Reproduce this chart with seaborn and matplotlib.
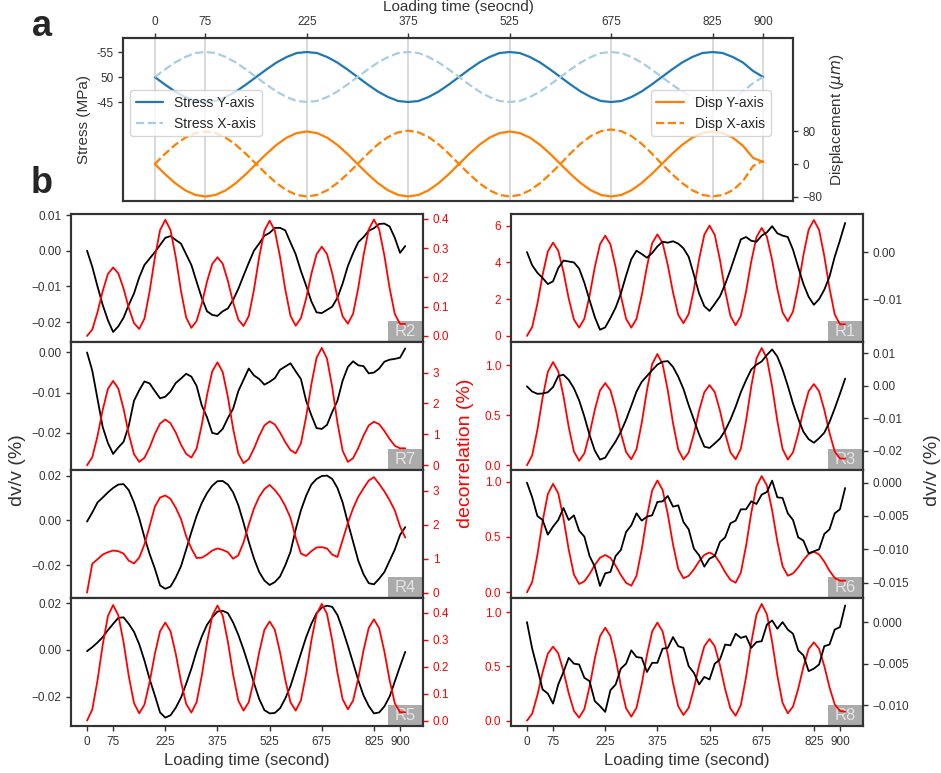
import matplotlib
matplotlib.use("Agg")
import matplotlib.pyplot as plt
import numpy as np
import seaborn as sns
from matplotlib.patches import Rectangle

sns.set_theme(style="ticks")
plt.rcParams['font.family'] = ['Liberation Sans', 'DejaVu Sans']
plt.rcParams['axes.edgecolor'] = '#333333'
plt.rcParams['axes.linewidth'] = 1.5

# ---------------- data: panel a (loading path) ----------------
t_top = np.arange(0, 901, 15)

stress_y = [50.0, 48.5, 47.1, 46.0, 45.2, 45.0, 45.2, 46.0, 47.1, 48.5, 50.0, 51.5, 52.9, 54.0, 54.8, 55.0, 54.8, 54.0, 52.9, 51.5,
            50.0, 48.5, 47.1, 46.0, 45.2, 45.0, 45.2, 46.0, 47.1, 48.5, 50.0, 51.5, 52.9, 54.0, 54.8, 55.0, 54.8, 54.0, 52.9, 51.5,
            50.0, 48.5, 47.1, 46.0, 45.2, 45.0, 45.2, 46.0, 47.1, 48.5, 50.0, 51.5, 52.9, 54.0, 54.8, 55.0, 54.8, 54.0, 52.9, 51.2,
            50.0]
stress_x = [50.0, 51.5, 52.9, 54.0, 54.8, 55.0, 54.8, 54.0, 52.9, 51.5, 50.0, 48.5, 47.1, 46.0, 45.2, 45.0, 45.2, 46.0, 47.1, 48.5,
            50.0, 51.5, 52.9, 54.0, 54.8, 55.0, 54.8, 54.0, 52.9, 51.5, 50.0, 48.5, 47.1, 46.0, 45.2, 45.0, 45.2, 46.0, 47.1, 48.5,
            50.0, 51.5, 52.9, 54.0, 54.8, 55.0, 54.8, 54.0, 52.9, 51.5, 50.0, 48.5, 47.1, 46.0, 45.2, 45.0, 45.2, 46.0, 47.1, 48.8,
            50.0]
disp_y = [0.0, -24.7, -47.0, -64.7, -76.1, -80.0, -76.1, -64.7, -47.0, -24.7, 0.0, 24.7, 47.0, 64.7, 76.1, 80.0, 76.1, 64.7, 47.0, 24.7,
          0.0, -24.7, -47.0, -64.7, -76.1, -80.0, -76.1, -64.7, -47.0, -24.7, 0.0, 24.7, 47.0, 64.7, 76.1, 80.0, 76.1, 64.7, 47.0, 24.7,
          0.0, -24.7, -47.0, -64.7, -76.1, -80.0, -76.1, -64.7, -47.0, -24.7, 0.0, 24.7, 47.0, 64.7, 76.1, 80.0, 76.1, 64.7, 45.0, 15.0,
          5.0]
disp_x = [0.0, 24.7, 47.0, 64.7, 76.1, 80.0, 76.1, 64.7, 47.0, 24.7, 0.0, -24.7, -47.0, -64.7, -76.1, -80.0, -76.1, -64.7, -47.0, -24.7,
          0.0, 25.3, 48.2, 66.3, 78.0, 82.0, 78.0, 66.3, 48.2, 25.3, 0.0, -24.7, -47.0, -64.7, -76.1, -80.0, -76.1, -64.7, -47.0, -24.7,
          0.0, 26.3, 50.0, 68.8, 80.8, 85.0, 80.8, 68.8, 50.0, 26.3, 0.0, -24.7, -47.0, -64.7, -76.1, -80.0, -76.1, -64.7, -42.0, -5.0,
          8.0]

# ---------------- data: panel b (receivers) ----------------
t_bot = np.arange(0, 916, 15)

r2_dc = [0, .022, .081, .153, .212, .234, .214, .162, .096, .044,
         .024, .059, .153, .268, .362, .397, .362, .270, .155, .063,
         .028, .051, .111, .186, .246, .269, .247, .188, .115, .056,
         .034, .068, .158, .270, .360, .394, .360, .270, .159, .069,
         .035, .061, .128, .212, .279, .305, .280, .214, .133, .067,
         .042, .076, .165, .275, .364, .398, .364, .275, .164, .075,
         .041, .041]
r2_dv = [0.0000, -0.0045, -0.0100, -0.0152, -0.0195, -0.0228, -0.0212, -0.0188, -0.0152, -0.0120,
         -0.0075, -0.0040, -0.0022, -0.0004, 0.0016, 0.0036, 0.0041, 0.0030, 0.0020, -0.0010,
         -0.0040, -0.0087, -0.0133, -0.0170, -0.0180, -0.0183, -0.0170, -0.0162, -0.0138, -0.0107,
         -0.0070, -0.0034, 0.0000, 0.0020, 0.0042, 0.0050, 0.0064, 0.0064, 0.0057, 0.0023,
         -0.0010, -0.0057, -0.0098, -0.0142, -0.0173, -0.0175, -0.0166, -0.0157, -0.0132, -0.0092,
         -0.0043, -0.0007, 0.0024, 0.0038, 0.0056, 0.0063, 0.0075, 0.0076, 0.0068, 0.0036,
         -0.0006, 0.0013]

r7_dc = [0, .26, .94, 1.79, 2.47, 2.73, 2.48, 1.83, 1.01, .36,
         .11, .24, .58, 1.01, 1.35, 1.48, 1.36, 1.06, .67, .37,
         .25, .54, 1.31, 2.27, 3.04, 3.33, 3.02, 2.21, 1.19, .38,
         .07, .20, .54, .95, 1.29, 1.42, 1.32, 1.06, .75, .49,
         .39, .71, 1.57, 2.62, 3.48, 3.80, 3.45, 2.53, 1.38, .47,
         .11, .23, .56, .96, 1.29, 1.41, 1.33, 1.11, .85, .63,
         .55, .55]
r7_dv = [0.0000, -0.0045, -0.0115, -0.0185, -0.0225, -0.0252, -0.0236, -0.0222, -0.0182, -0.0120,
         -0.0094, -0.0072, -0.0077, -0.0096, -0.0114, -0.0110, -0.0097, -0.0076, -0.0065, -0.0053,
         -0.0060, -0.0083, -0.0132, -0.0161, -0.0200, -0.0203, -0.0190, -0.0163, -0.0140, -0.0096,
         -0.0068, -0.0040, -0.0057, -0.0066, -0.0080, -0.0073, -0.0064, -0.0043, -0.0035, -0.0027,
         -0.0047, -0.0066, -0.0120, -0.0156, -0.0188, -0.0190, -0.0180, -0.0148, -0.0120, -0.0070,
         -0.0036, -0.0022, -0.0032, -0.0034, -0.0052, -0.0050, -0.0040, -0.0023, -0.0018, -0.0016,
         -0.0013, 0.0010]

r4_dc = [0.0, 0.85, 0.98, 1.12, 1.19, 1.24, 1.22, 1.15, 0.94, 0.86,
         1.03, 1.42, 1.96, 2.53, 2.80, 2.86, 2.76, 2.50, 2.17, 1.66,
         1.30, 1.02, 1.03, 1.12, 1.24, 1.30, 1.26, 1.19, 1.00, 1.10,
         1.48, 2.00, 2.48, 2.82, 3.05, 3.17, 3.02, 2.82, 2.55, 2.20,
         1.62, 1.15, 1.08, 1.22, 1.33, 1.34, 1.30, 1.12, 1.05, 1.55,
         2.05, 2.48, 2.82, 3.07, 3.30, 3.40, 3.20, 2.98, 2.72, 2.42,
         1.95, 1.62]
r4_dv = [-0.0005, 0.0035, 0.0080, 0.0102, 0.0125, 0.0145, 0.0160, 0.0162, 0.0135, 0.0080,
         0.0010, -0.0075, -0.0150, -0.0215, -0.0290, -0.0305, -0.0295, -0.0255, -0.0205, -0.0130,
         -0.0052, 0.0020, 0.0078, 0.0122, 0.0155, 0.0175, 0.0176, 0.0160, 0.0125, 0.0068,
         -0.0010, -0.0095, -0.0170, -0.0230, -0.0268, -0.0288, -0.0275, -0.0250, -0.0200, -0.0140,
         -0.0040, 0.0045, 0.0110, 0.0160, 0.0185, 0.0198, 0.0200, 0.0185, 0.0145, 0.0080,
         -0.0010, -0.0095, -0.0180, -0.0240, -0.0280, -0.0285, -0.0260, -0.0230, -0.0180, -0.0130,
         -0.0065, -0.0030]

r5_dc = [0, .041, .148, .280, .387, .428, .390, .290, .165, .065,
         .027, .059, .143, .247, .331, .363, .331, .248, .145, .062,
         .030, .068, .167, .289, .388, .426, .389, .292, .171, .074,
         .037, .068, .151, .253, .336, .367, .336, .253, .151, .068,
         .037, .075, .173, .296, .394, .432, .395, .297, .177, .079,
         .042, .074, .157, .260, .343, .375, .342, .256, .150, .064,
         .031, .031]
r5_dv = [-0.0005, 0.0012, 0.0032, 0.0055, 0.0085, 0.0112, 0.0138, 0.0140, 0.0112, 0.0078,
         0.0025, -0.0045, -0.0125, -0.0195, -0.0268, -0.0290, -0.0280, -0.0248, -0.0205, -0.0145,
         -0.0080, -0.0005, 0.0058, 0.0108, 0.0140, 0.0165, 0.0168, 0.0158, 0.0118, 0.0065,
         0.0002, -0.0068, -0.0142, -0.0210, -0.0258, -0.0272, -0.0270, -0.0250, -0.0208, -0.0155,
         -0.0085, -0.0015, 0.0055, 0.0112, 0.0158, 0.0182, 0.0190, 0.0185, 0.0150, 0.0088,
         0.0018, -0.0055, -0.0130, -0.0195, -0.0240, -0.0272, -0.0268, -0.0242, -0.0200, -0.0135,
         -0.0070, -0.0008]

r1_dc = [0, .48, 1.75, 3.32, 4.59, 5.07, 4.63, 3.48, 2.04, .89,
         .45, .93, 2.18, 3.73, 4.98, 5.45, 4.98, 3.73, 2.18, .93,
         .45, .93, 2.20, 3.77, 5.04, 5.52, 5.06, 3.85, 2.36, 1.15,
         .69, 1.19, 2.52, 4.17, 5.50, 6.00, 5.49, 4.13, 2.45, 1.09,
         .58, 1.08, 2.41, 4.05, 5.37, 5.87, 5.39, 4.12, 2.55, 1.28,
         .80, 1.32, 2.70, 4.40, 5.78, 6.30, 5.76, 4.34, 2.59, 1.17,
         .63, .63]
r1_dv = [0.0000, -0.0028, -0.0044, -0.0055, -0.0068, -0.0062, -0.0034, -0.0018, -0.0020, -0.0022,
         -0.0035, -0.0065, -0.0102, -0.0138, -0.0165, -0.0160, -0.0140, -0.0118, -0.0088, -0.0050,
         -0.0015, 0.0003, -0.0004, -0.0012, -0.0002, 0.0012, 0.0022, 0.0020, 0.0023, 0.0018,
         0.0008, -0.0010, -0.0048, -0.0088, -0.0115, -0.0125, -0.0110, -0.0094, -0.0068, -0.0038,
         -0.0005, 0.0027, 0.0032, 0.0024, 0.0022, 0.0035, 0.0042, 0.0055, 0.0040, 0.0035,
         0.0032, 0.0005, -0.0032, -0.0068, -0.0095, -0.0112, -0.0100, -0.0080, -0.0052, -0.0010,
         0.0025, 0.0062]

r3_dc = [0, .098, .355, .675, .932, 1.03, .936, .690, .384, .138,
         .044, .118, .312, .552, .746, .820, .748, .558, .322, .132,
         .060, .160, .422, .748, 1.010, 1.11, 1.010, .747, .420, .157,
         .057, .128, .313, .544, .729, .800, .730, .545, .315, .130,
         .060, .165, .443, .787, 1.065, 1.17, 1.064, .786, .441, .163,
         .057, .129, .317, .550, .738, .810, .739, .554, .323, .138,
         .067, .067]
r3_dv = [-0.0002, -0.0018, -0.0025, -0.0024, -0.0020, -0.0004, 0.0030, 0.0034, 0.0018, -0.0008,
         -0.0045, -0.0095, -0.0152, -0.0200, -0.0228, -0.0222, -0.0196, -0.0172, -0.0142, -0.0105,
         -0.0062, -0.0018, 0.0012, 0.0030, 0.0048, 0.0065, 0.0074, 0.0076, 0.0058, 0.0028,
         -0.0010, -0.0060, -0.0105, -0.0150, -0.0188, -0.0192, -0.0178, -0.0163, -0.0138, -0.0105,
         -0.0065, -0.0020, 0.0017, 0.0050, 0.0065, 0.0075, 0.0095, 0.0112, 0.0090, 0.0050,
         0.0000, -0.0055, -0.0102, -0.0142, -0.0165, -0.0176, -0.0162, -0.0145, -0.0112, -0.0070,
         -0.0025, 0.0022]

r6_dc = [0, .093, .338, .642, .887, .980, .894, .668, .387, .161,
         .075, .100, .165, .247, .312, .337, .311, .241, .156, .086,
         .060, .150, .388, .682, .920, 1.01, .926, .705, .432, .211,
         .127, .149, .207, .280, .338, .360, .334, .266, .181, .113,
         .087, .178, .419, .718, .959, 1.05, .965, .740, .461, .236,
         .150, .171, .225, .292, .346, .367, .342, .277, .195, .130,
         .105, .105]
r6_dv = [0.0000, -0.0022, -0.0050, -0.0056, -0.0078, -0.0066, -0.0056, -0.0038, -0.0056, -0.0049,
         -0.0072, -0.0081, -0.0110, -0.0126, -0.0155, -0.0136, -0.0134, -0.0110, -0.0101, -0.0074,
         -0.0064, -0.0046, -0.0057, -0.0051, -0.0049, -0.0029, -0.0028, -0.0020, -0.0036, -0.0034,
         -0.0059, -0.0070, -0.0099, -0.0109, -0.0126, -0.0114, -0.0110, -0.0089, -0.0082, -0.0061,
         -0.0057, -0.0040, -0.0040, -0.0028, -0.0032, -0.0018, -0.0014, 0.0003, -0.0022, -0.0023,
         -0.0046, -0.0056, -0.0082, -0.0087, -0.0106, -0.0103, -0.0100, -0.0077, -0.0070, -0.0046,
         -0.0040, -0.0008]

r8_dc = [0, .065, .236, .447, .618, .683, .621, .457, .254, .090,
         .028, .107, .314, .572, .779, .858, .780, .575, .320, .115,
         .037, .119, .336, .606, .823, .905, .824, .611, .346, .133,
         .052, .119, .294, .512, .687, .754, .687, .510, .290, .113,
         .046, .144, .402, .721, .979, 1.077, .981, .729, .416, .164,
         .068, .130, .294, .497, .661, .723, .663, .505, .308, .150,
         .090, .083]
r8_dv = [0.0000, -0.0032, -0.0056, -0.0081, -0.0086, -0.0098, -0.0075, -0.0060, -0.0043, -0.0050,
         -0.0051, -0.0067, -0.0071, -0.0095, -0.0101, -0.0108, -0.0082, -0.0075, -0.0056, -0.0050,
         -0.0034, -0.0042, -0.0043, -0.0060, -0.0049, -0.0049, -0.0032, -0.0031, -0.0018, -0.0029,
         -0.0031, -0.0053, -0.0061, -0.0075, -0.0066, -0.0069, -0.0050, -0.0045, -0.0027, -0.0028,
         -0.0014, -0.0019, -0.0017, -0.0031, -0.0024, -0.0023, -0.0003, 0.0002, -0.0008, 0.0000,
         -0.0009, -0.0014, -0.0034, -0.0040, -0.0059, -0.0056, -0.0051, -0.0029, -0.0027, -0.0009,
         -0.0006, 0.0020]

time_ticks = [0, 75, 225, 375, 525, 675, 825, 900]

# ---------------- figure ----------------
fig = plt.figure(figsize=(9.41, 7.73), dpi=100)
pal = sns.color_palette("Paired")
dark = '#333333'

# panel a
ax_a = fig.add_axes([0.1307, 0.74, 0.712, 0.2108])
ax_d = ax_a.twinx()
sns.lineplot(x=t_top, y=stress_y, ax=ax_a, color=pal[1], lw=1.6, legend=False)
sns.lineplot(x=t_top, y=stress_x, ax=ax_a, color=pal[0], lw=1.6, linestyle='--', legend=False)
sns.lineplot(x=t_top, y=disp_y, ax=ax_d, color=pal[7], lw=1.6, legend=False)
sns.lineplot(x=t_top, y=disp_x, ax=ax_d, color=pal[7], lw=1.6, linestyle='--', legend=False)

ax_a.set_xlim(-47, 944)
ax_a.set_ylim(25.2, 57.8)
ax_d.set_ylim(-91, 310)
ax_a.set_xticks(time_ticks)
ax_a.xaxis.tick_top()
ax_a.xaxis.set_label_position('top')
ax_a.set_xlabel('Loading time (seocnd)', fontsize=11, color=dark)
ax_a.set_yticks([45, 50, 55])
ax_a.set_yticklabels(['-45', '50', '-55'])
ax_d.set_yticks([-80, 0, 80])
ax_a.set_ylabel('Stress (MPa)', fontsize=11, color=dark)
ax_d.set_ylabel('Displacement ($\\mu m$)', fontsize=11, color=dark)
ax_a.grid(axis='x', color='#d3d3d3', lw=1.2)
for a in (ax_a, ax_d):
    a.tick_params(labelsize=8.5, colors=dark, length=3.5, width=1)

leg1 = ax_d.legend(handles=ax_a.get_lines()[:2], labels=['Stress Y-axis', 'Stress X-axis'],
                   loc='upper left', bbox_to_anchor=(0.0104, 0.681), borderaxespad=0, fontsize=10)
ax_d.add_artist(leg1)
ax_d.legend(handles=ax_d.get_lines()[:2], labels=['Disp Y-axis', 'Disp X-axis'],
            loc='upper right', bbox_to_anchor=(0.967, 0.681), borderaxespad=0, fontsize=10)

# panel b
col_left = {'left': 0.0755, 'right': 0.543}
row_bottom = [0.5576, 0.392, 0.2264, 0.0608]
W, H = 0.374, 0.1656

panels = [
    ('R2', 'left', 0, r2_dv, r2_dc, (-0.0256, 0.0103), (-0.0205, 0.417), [-0.02, -0.01, 0.0, 0.01], [0, .1, .2, .3, .4]),
    ('R7', 'left', 1, r7_dv, r7_dc, (-0.0292, 0.0026), (-0.152, 3.99), [-0.02, -0.01, 0.0], [0, 1, 2, 3]),
    ('R4', 'left', 2, r4_dv, r4_dc, (-0.0346, 0.0225), (-0.157, 3.61), [-0.02, 0.0, 0.02], [0, 1, 2, 3]),
    ('R5', 'left', 3, r5_dv, r5_dc, (-0.0326, 0.0223), (-0.02, 0.454), [-0.02, 0.0, 0.02], [0, .1, .2, .3, .4]),
    ('R1', 'right', 0, r1_dv, r1_dc, (-0.0191, 0.0081), (-0.33, 6.63), [-0.01, 0.0], [0, 2, 4, 6]),
    ('R3', 'right', 1, r3_dv, r3_dc, (-0.026, 0.0135), (-0.047, 1.23), [-0.02, -0.01, 0.0, 0.01], [0, .5, 1.0]),
    ('R6', 'right', 2, r6_dv, r6_dc, (-0.0173, 0.0019), (-0.051, 1.105), [-0.015, -0.010, -0.005, 0.0], [0, .5, 1.0]),
    ('R8', 'right', 3, r8_dv, r8_dc, (-0.0125, 0.0029), (-0.049, 1.132), [-0.010, -0.005, 0.0], [0, .5, 1.0]),
]

for name, col, row, dv, dc, dvlim, dclim, dvt, dct in panels:
    ax = fig.add_axes([col_left[col], row_bottom[row], W, H])
    ax2 = ax.twinx()
    if col == 'left':
        ax_dv, ax_dc = ax, ax2
    else:
        ax_dc, ax_dv = ax, ax2
    sns.lineplot(x=t_bot, y=dv, ax=ax_dv, color='black', lw=1.3, legend=False)
    sns.lineplot(x=t_bot, y=dc, ax=ax_dc, color='red', lw=1.3, legend=False)
    ax.set_xlim(-46, 966)
    ax_dv.set_ylim(*dvlim)
    ax_dc.set_ylim(*dclim)
    ax_dv.set_yticks(dvt)
    ax_dc.set_yticks(dct)
    ax_dv.tick_params(axis='y', labelsize=8.5, colors=dark, length=3.5, width=1)
    ax_dc.tick_params(axis='y', labelsize=8.5, colors='red', length=3.5, width=1)
    ax.set_ylabel('')
    ax2.set_ylabel('')
    if row == 3:
        ax.set_xticks(time_ticks)
        ax.tick_params(axis='x', labelsize=8.5, colors=dark, length=3.5, width=1)
        ax.set_xlabel('Loading time (second)', fontsize=12, color=dark)
    else:
        ax.set_xticks(time_ticks)
        ax.tick_params(axis='x', bottom=False, labelbottom=False)
        ax.set_xlabel('')
    ax.add_patch(Rectangle((0.9006, 0.0), 0.0994, 0.164, transform=ax.transAxes,
                           facecolor='#ababab', edgecolor='none', zorder=0.5))
    ax.text(0.9503, 0.082, name, transform=ax.transAxes, ha='center', va='center',
            fontsize=12, color='#e4e4e4', zorder=0.6)

fig.text(0.019, 0.392, 'dv/v (%)', rotation=90, fontsize=14, color=dark, ha='center', va='center')
fig.text(0.495, 0.414, 'decorrelation (%)', rotation=90, fontsize=14, color='red', ha='center', va='center')
fig.text(0.9905, 0.392, 'dv/v (%)', rotation=90, fontsize=14, color=dark, ha='center', va='center')

fig.text(0.0446, 0.953, 'a', fontsize=26, fontweight='bold', ha='center', va='baseline')
fig.text(0.0446, 0.750, 'b', fontsize=26, fontweight='bold', ha='center', va='baseline')

fig.savefig('out.png', dpi=100)
